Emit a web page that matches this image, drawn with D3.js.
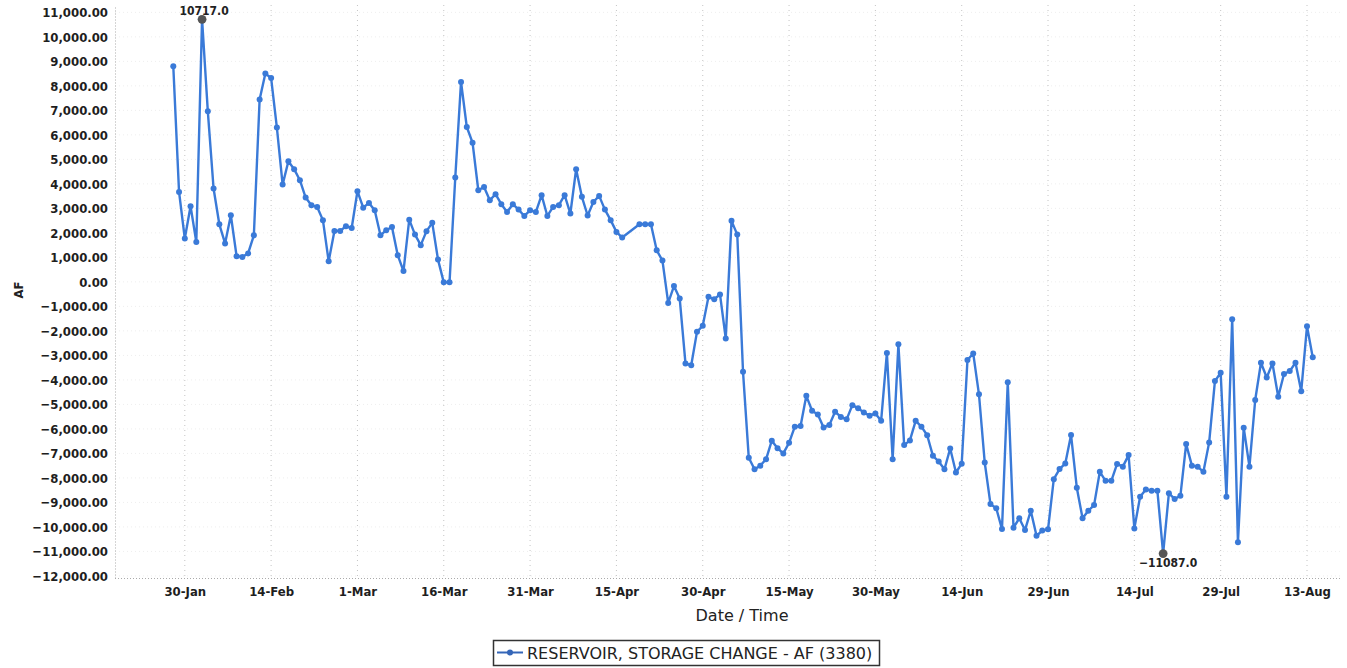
<!DOCTYPE html>
<html>
<head>
<meta charset="utf-8">
<script src="https://cdn.jsdelivr.net/npm/d3@7"></script>
<style>
  body { margin: 0; background: #fff; }
  text { font-family: "DejaVu Sans Condensed", "DejaVu Sans", sans-serif; }
</style>
</head>
<body>
<svg id="chart" width="1347" height="668"></svg>
<script>
// daily values, first day is 28-Jan; null = no reading that day
var startDate = "2013-01-28";
var storageChange = [
  8800, 3670, 1770, 3090, 1630, 10717, 6960, 3810, 2350, 1570,
  2720, 1050, 1020, 1160, 1900, 7440, 8500, 8320, 6300, 3970,
  4920, 4600, 4150, 3440, 3130, 3060, 2520, 840, 2080, 2080,
  2270, 2200, 3700, 3030, 3220, 2920, 1900, 2110, 2240, 1090,
  440, 2540, 1930, 1500, 2070, 2410, 910, -20, -20, 4260,
  8160, 6320, 5680, 3740, 3870, 3330, 3580, 3170, 2850, 3170,
  2950, 2690, 2920, 2850, 3540, 2690, 3060, 3130, 3540, 2790,
  4600, 3470, 2710, 3260, 3510, 2950, 2520, 2040, 1810, null,
  null, 2350, 2350, 2350, 1290, 870, -860, -170, -680, -3330,
  -3400, -2040, -1790, -610, -710, -510, -2310, 2490, 1930, -3670,
  -7180, -7650, -7500, -7240, -6480, -6790, -7000, -6570, -5910, -5880,
  -4650, -5260, -5410, -5940, -5840, -5300, -5510, -5610, -5030, -5160,
  -5330, -5460, -5370, -5670, -2900, -7240, -2550, -6660, -6470, -5670,
  -5910, -6260, -7100, -7330, -7650, -6800, -7780, -7420, -3190, -2920,
  -4590, -7370, -9070, -9240, -10090, -4100, -10030, -9650, -10130, -9340,
  -10360, -10150, -10100, -8050, -7640, -7410, -6250, -8400, -9650, -9340,
  -9110, -7750, -8120, -8120, -7430, -7540, -7070, -10060, -8770, -8470,
  -8520, -8520, -11087, -8630, -8860, -8730, -6620, -7500, -7540, -7750,
  -6550, -4050, -3710, -8770, -1520, -10630, -5950, -7540, -4820, -3300,
  -3900, -3330, -4690, -3760, -3640, -3300, -4460, -1810, -3080
];

var tickDates = ["2013-01-30", "2013-02-14", "2013-03-01", "2013-03-16", "2013-03-31",
  "2013-04-15", "2013-04-30", "2013-05-15", "2013-05-30", "2013-06-14",
  "2013-06-29", "2013-07-14", "2013-07-29", "2013-08-13"];
var tickLabels = ["30-Jan", "14-Feb", "1-Mar", "16-Mar", "31-Mar", "15-Apr", "30-Apr",
  "15-May", "30-May", "14-Jun", "29-Jun", "14-Jul", "29-Jul", "13-Aug"];
var yTickValues = d3.range(-12000, 11001, 1000);

var seriesName = "RESERVOIR, STORAGE CHANGE - AF (3380)";

var svg = d3.select("#chart");
var parse = d3.timeParse("%Y-%m-%d");
var t0 = parse(startDate);

var points = storageChange.map(function(v, i) {
  return { date: d3.timeDay.offset(t0, i), value: v };
}).filter(function(d) { return d.value !== null; });

var plotLeft = 115, plotRight = 1340, plotTop = 5, plotBottom = 578;

var x = d3.scaleTime()
  .domain([parse(tickDates[0]), parse(tickDates[tickDates.length - 1])])
  .range([184.8, 1307]);

var y = d3.scaleLinear()
  .domain([-12085, 11300])
  .range([plotBottom, plotTop]);

var lineBlue = "#3a7ad8";
var labelFont = "'DejaVu Sans Condensed', 'DejaVu Sans', sans-serif";

// grid
svg.append("g").selectAll("line")
  .data(yTickValues)
  .enter().append("line")
  .attr("x1", plotLeft).attr("x2", plotRight)
  .attr("y1", function(d) { return y(d); })
  .attr("y2", function(d) { return y(d); })
  .attr("stroke", "#eeeeee")
  .attr("stroke-dasharray", "1,3");

svg.append("g").selectAll("line")
  .data(tickDates)
  .enter().append("line")
  .attr("x1", function(d) { return x(parse(d)); })
  .attr("x2", function(d) { return x(parse(d)); })
  .attr("y1", plotTop).attr("y2", plotBottom)
  .attr("stroke", "#c4c4c4")
  .attr("stroke-dasharray", "1,4");

// axes
var yAxis = svg.append("g")
  .attr("transform", "translate(" + plotLeft + ",0)")
  .call(d3.axisLeft(y).tickValues(yTickValues).tickFormat(d3.format(",.2f")).tickSize(0).tickPadding(7));
yAxis.select(".domain").attr("stroke", "#aaa").attr("stroke-dasharray", "1,2");
yAxis.selectAll("text")
  .attr("font-size", 13).attr("font-weight", "bold").attr("fill", "#1e1e1e")
  .style("font-family", labelFont);

var xAxis = svg.append("g")
  .attr("transform", "translate(0," + plotBottom + ")")
  .call(d3.axisBottom(x).tickValues(tickDates.map(parse))
    .tickFormat(function(d, i) { return tickLabels[i]; }).tickSize(0).tickPadding(9));
xAxis.select(".domain").attr("stroke", "#aaa").attr("stroke-dasharray", "1,2")
  .attr("d", "M" + plotLeft + ",0.5H" + plotRight);
xAxis.selectAll("text")
  .attr("font-size", 13).attr("font-weight", "bold").attr("fill", "#1e1e1e")
  .style("font-family", labelFont);

// axis titles
svg.append("text")
  .attr("x", 742).attr("y", 621)
  .attr("text-anchor", "middle")
  .attr("font-size", 16).attr("fill", "#222")
  .style("font-family", "'DejaVu Sans', sans-serif")
  .text("Date / Time");

svg.append("text")
  .attr("transform", "translate(23,290) rotate(-90)")
  .attr("text-anchor", "middle")
  .attr("font-size", 13).attr("font-weight", "bold").attr("fill", "#222")
  .text("AF");

// series
var line = d3.line()
  .x(function(d) { return x(d.date); })
  .y(function(d) { return y(d.value); });

svg.append("path")
  .datum(points)
  .attr("d", line)
  .attr("fill", "none")
  .attr("stroke", lineBlue)
  .attr("stroke-width", 2.4)
  .attr("stroke-linejoin", "round");

svg.append("g").selectAll("circle")
  .data(points)
  .enter().append("circle")
  .attr("cx", function(d) { return x(d.date); })
  .attr("cy", function(d) { return y(d.value); })
  .attr("r", 3)
  .attr("fill", lineBlue);

// max / min markers
var maxPt = points.reduce(function(a, b) { return b.value > a.value ? b : a; });
var minPt = points.reduce(function(a, b) { return b.value < a.value ? b : a; });

[maxPt, minPt].forEach(function(p) {
  svg.append("circle")
    .attr("cx", x(p.date)).attr("cy", y(p.value))
    .attr("r", 4.4).attr("fill", "#555");
});

svg.append("text")
  .attr("x", x(maxPt.date) + 2).attr("y", y(maxPt.value) - 4)
  .attr("text-anchor", "middle")
  .attr("font-size", 12).attr("font-weight", "bold").attr("fill", "#222")
  .text(d3.format(".1f")(maxPt.value));

svg.append("text")
  .attr("x", x(minPt.date) + 5).attr("y", y(minPt.value) + 13)
  .attr("text-anchor", "middle")
  .attr("font-size", 12).attr("font-weight", "bold").attr("fill", "#222")
  .text(d3.format(".1f")(minPt.value));

// legend
var legend = svg.append("g").attr("transform", "translate(493,640)");
legend.append("rect")
  .attr("x", 0.5).attr("y", 0.5).attr("width", 386).attr("height", 25)
  .attr("fill", "#fff").attr("stroke", "#333").attr("stroke-width", 1.5);
legend.append("line")
  .attr("x1", 4).attr("x2", 30).attr("y1", 12.5).attr("y2", 12.5)
  .attr("stroke", "#3566b8").attr("stroke-width", 2);
legend.append("circle")
  .attr("cx", 17).attr("cy", 12.5).attr("r", 3).attr("fill", "#3566b8");
legend.append("text")
  .attr("x", 34).attr("y", 18.5)
  .attr("font-size", 16).attr("fill", "#222")
  .style("font-family", "'DejaVu Sans', sans-serif")
  .text(seriesName);
</script>
</body>
</html>
